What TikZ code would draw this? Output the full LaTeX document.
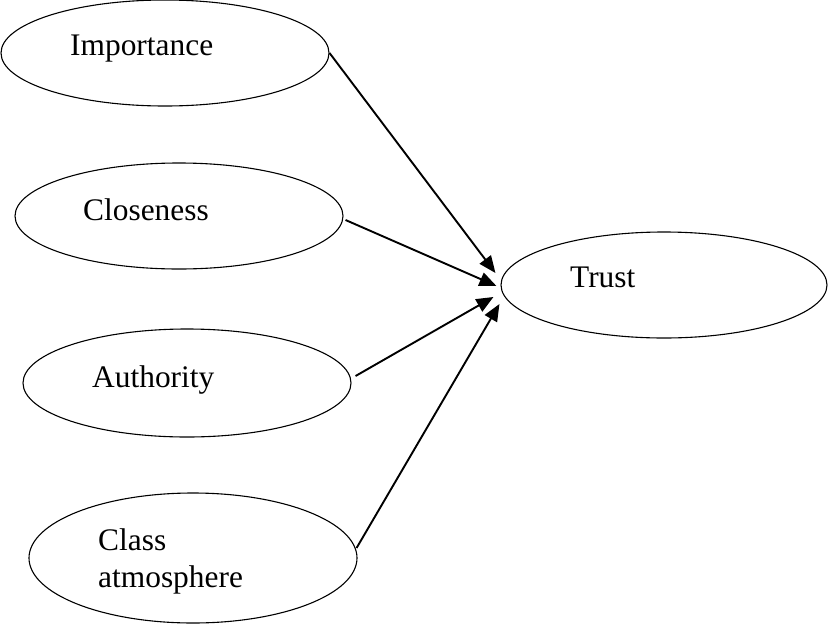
\documentclass[tikz,border=0pt]{standalone}
\usepackage{fontspec}
\setmainfont{Liberation Serif}
\usetikzlibrary{shapes.geometric,arrows.meta,calc}
\begin{document}
\begin{tikzpicture}[x=1pt,y=-1pt,
  construct/.style={draw, ellipse, line width=1.1pt, inner sep=0pt,
                    minimum width=#1, minimum height=106pt},
  construct/.default=328pt,
  caption/.style={anchor=base west, inner sep=0pt,
                  font=\fontsize{31.4}{37}\selectfont},
  path/.style={line width=1.9pt, -{Triangle[length=17pt,width=14pt]}}]
  \useasboundingbox (0,0) rectangle (828,627);

  % constructs
  \node[construct] (imp) at (165,53) {};
  \node[construct] (clo) at (179,216) {};
  \node[construct, minimum height=108pt] (aut) at (187,383) {};
  \node[construct, minimum height=130pt] (cls) at (193,558) {};
  \node[construct=326pt] (trust) at (664,285) {};

  % labels
  \node[caption] (impL) at (70,55) {Importance};
  \node[caption] (cloL) at (83,220) {Closeness};
  \node[caption] (autL) at (92,387) {Authority};
  \node[caption] (clsL1) at (98,550) {Class};
  \node[caption] (clsL2) at (98,587) {atmosphere};
  \node[caption] (trustL) at (570,287) {Trust};

  % arrow tips just left of the Trust ellipse
  \coordinate (t1) at ($(trust.west)+(-5,-12)$);
  \coordinate (t2) at ($(trust.west)+(-4,1)$);
  \coordinate (t3) at ($(trust.west)+(-7,12)$);
  \coordinate (t4) at ($(trust.west)+(-1,19)$);

  \draw[path] (imp.east) -- (t1);
  \draw[path] ($(clo.east)+(2,4)$) -- (t2);
  \draw[path] ($(aut.east)+(4,-7)$) -- (t3);
  \draw[path] ($(cls.east)+(-1,-10)$) -- (t4);
\end{tikzpicture}
\end{document}
